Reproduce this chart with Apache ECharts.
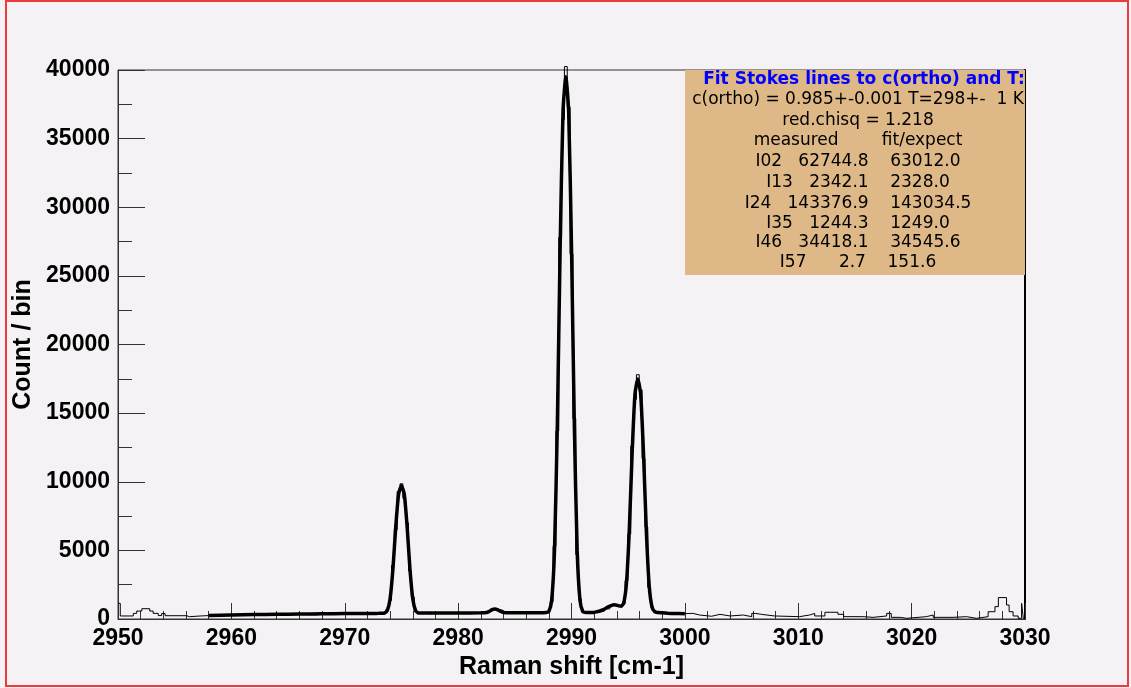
<!DOCTYPE html>
<html>
<head>
<meta charset="utf-8">
<title>Raman shift fit</title>
<script src="https://cdn.jsdelivr.net/npm/echarts@6/dist/echarts.min.js"></script>
<style>
  html, body { margin: 0; padding: 0; background: #f5f2f5; }
  #chart { width: 1131px; height: 688px; }
</style>
</head>
<body>
<div id="chart"></div>
<script>
'use strict';

// histogram: left bin edges + counts (last edge closes at 3030)
var histEdges = [
  2950.0, 2950.2, 2951.35, 2951.65, 2952.1, 2952.8, 2953.1, 2953.55, 2953.85, 2954.15,
  2956.05, 2956.3, 2957.5, 2958.5, 2959.5, 2960.5, 2961.5, 2962.5, 2963.5, 2964.5,
  2965.5, 2966.5, 2967.5, 2968.5, 2969.5, 2970.5, 2971.5, 2972.0, 2972.5, 2972.875,
  2973.125, 2973.375, 2973.625, 2973.875, 2974.125, 2974.375, 2974.625, 2974.875, 2975.125, 2975.375,
  2975.625, 2975.875, 2976.125, 2976.375, 2976.625, 2977.125, 2977.5, 2978.0, 2978.5, 2979.0,
  2979.5, 2980.0, 2980.5, 2981.0, 2981.5, 2982.0, 2982.5, 2983.0, 2983.5, 2984.0,
  2984.5, 2985.0, 2985.5, 2986.0, 2986.5, 2987.0, 2987.625, 2987.875, 2988.125, 2988.375,
  2988.625, 2988.875, 2989.125, 2989.375, 2989.625, 2989.875, 2990.125, 2990.375, 2990.625, 2990.875,
  2991.125, 2991.375, 2991.875, 2992.375, 2992.875, 2993.375, 2993.875, 2994.225, 2994.475, 2994.725,
  2994.975, 2995.225, 2995.475, 2995.725, 2995.975, 2996.225, 2996.475, 2996.725, 2996.975, 2997.225,
  2997.475, 2997.975, 2998.5, 2999.0, 2999.5, 3000.0, 3000.7, 3001.3, 3002.35, 3003.1,
  3004.0, 3005.15, 3005.9, 3006.2, 3006.75, 3007.9, 3010.1, 3011.0, 3011.45, 3012.35,
  3013.5, 3014.0, 3015.7, 3016.6, 3017.8, 3018.2, 3019.0, 3019.55, 3021.3, 3021.9,
  3023.65, 3024.85, 3025.7, 3026.75, 3027.35, 3027.65, 3028.37, 3028.6, 3028.95, 3029.4,
  3029.7, 3029.85, 3030.0
];
var histCounts = [
  1140, 220, 410, 580, 750, 580, 410, 250, 400, 240,
  170, 230, 260, 290, 250, 310, 330, 300, 270, 370,
  330, 300, 390, 360, 410, 380, 420, 390, 440, 430,
  470, 520, 700, 1350, 3900, 6500, 9300, 9850, 8800, 7000,
  3500, 1600, 560, 410, 450, 380, 430, 400, 450, 410,
  440, 400, 460, 420, 450, 430, 560, 720, 620, 470,
  430, 470, 430, 460, 440, 470, 500, 600, 1250, 5300,
  13700, 27800, 36400, 40250, 37300, 26600, 14600, 4700, 1450, 520,
  470, 440, 510, 560, 740, 1010, 980, 1000, 1100, 2800,
  6200, 12600, 16000, 17800, 16700, 11700, 6700, 2300, 900, 500,
  460, 410, 380, 430, 390, 413, 290, 200, 340, 220,
  290, 170, 410, 340, 220, 170, 290, 410, 220, 490,
  340, 170, 120, 220, 410, 120, 50, 170, 290, 120,
  170, 50, 170, 530, 900, 1560, 1020, 530, 220, 50,
  1140, 50
];

// fitted curve
var fitX = [
  2958, 2960, 2962, 2964, 2966, 2968, 2970, 2971, 2972, 2972.5,
  2973, 2973.25, 2973.5, 2973.75, 2974, 2974.25, 2974.5, 2974.75, 2975, 2975.25,
  2975.5, 2975.75, 2976, 2976.25, 2976.5, 2976.75, 2977, 2978, 2980, 2982,
  2982.5, 2982.75, 2983, 2983.25, 2983.5, 2983.75, 2984, 2984.5, 2985, 2986,
  2987, 2987.5, 2987.75, 2988, 2988.25, 2988.5, 2988.75, 2989, 2989.25, 2989.5,
  2989.75, 2990, 2990.25, 2990.5, 2990.75, 2991, 2991.25, 2991.5, 2991.75, 2992,
  2992.25, 2992.5, 2992.75, 2993, 2993.25, 2993.5, 2993.75, 2994, 2994.2, 2994.35,
  2994.6, 2994.85, 2995.1, 2995.35, 2995.6, 2995.85, 2996.1, 2996.35, 2996.6, 2996.85,
  2997.1, 2997.35, 2997.6, 2998, 2998.5, 2999, 3000
];
var fitY = [
  260, 290, 320, 340, 360, 380, 395, 400, 402, 404,
  410, 415, 430, 614, 1479, 3655, 6752, 9096, 9700, 9096,
  6752, 3655, 1479, 614, 440, 430, 430, 440, 445, 450,
  475, 560, 680, 720, 660, 550, 475, 450, 450, 452,
  455, 460, 470, 550, 1350, 4980, 14120, 27120, 36960, 39500,
  36960, 27120, 14120, 4980, 1350, 550, 470, 470, 470, 480,
  530, 580, 660, 770, 890, 980, 1030, 1008, 957, 928,
  1157, 2631, 6528, 12138, 16395, 17480, 16375, 12091, 6430, 2452,
  871, 524, 475, 450, 420, 400, 390
];

// axis ranges
var xTicks = { min: 2950, max: 3030, interval: 10 };
var yTicks = { min: 0, max: 40000, interval: 5000 };

// fit result box lines
var boxTitle = 'Fit Stokes lines to c(ortho) and T:';
var boxLines = [
  'c(ortho) = 0.985+-0.001 T=298+-  1 K',
  'red.chisq = 1.218',
  'measured        fit/expect',
  'I02   62744.8    63012.0',
  'I13   2342.1    2328.0',
  'I24   143376.9    143034.5',
  'I35   1244.3    1249.0',
  'I46   34418.1    34545.6',
  'I57      2.7    151.6'
];

var histData = histEdges.map(function (x, i) {
  return [x, i < histCounts.length ? histCounts[i] : histCounts[histCounts.length - 1]];
});
var fitData = fitX.map(function (x, i) {
  return [x, fitY[i]];
});

var labelFont = {
  color: '#000',
  fontFamily: 'Liberation Sans',
  fontWeight: 'bold',
  fontSize: 23,
  formatter: function (v) { return String(v); }
};
var titleFont = {
  color: '#000',
  fontFamily: 'Liberation Sans',
  fontWeight: 'bold',
  fontSize: 25,
  verticalAlign: 'middle'
};

var lineY = [100, 121, 140.5, 162, 183, 204, 224, 243, 263];
var boxX = 858;

var graphics = [
  {
    type: 'rect',
    shape: { x: 685, y: 70, width: 340, height: 205 },
    style: { fill: '#deb887' },
    z: 1
  },
  {
    type: 'text',
    z: 2,
    style: {
      text: boxTitle, x: boxX + 6, y: 80,
      align: 'center', verticalAlign: 'middle',
      font: 'bold 17px "DejaVu Sans"', fill: '#0000ff'
    }
  },
  {
    type: 'rect',
    shape: { x: 6, y: 1, width: 1122, height: 685 },
    style: { fill: 'none', stroke: '#ee3a3a', lineWidth: 2 },
    z: 10
  }
];
boxLines.forEach(function (t, i) {
  graphics.push({
    type: 'text',
    z: 2,
    style: {
      text: t, x: boxX, y: lineY[i],
      align: 'center', verticalAlign: 'middle',
      font: '17px "DejaVu Sans"', fill: '#000'
    }
  });
});

var chart = echarts.init(document.getElementById('chart'));
chart.setOption({
  backgroundColor: '#f5f2f5',
  animation: false,
  grid: {
    left: 118,
    right: 106,
    top: 70,
    bottom: 69,
    show: true,
    borderColor: '#333',
    borderWidth: 1,
    backgroundColor: 'transparent'
  },
  xAxis: {
    type: 'value',
    min: xTicks.min,
    max: xTicks.max,
    interval: xTicks.interval,
    name: 'Raman shift [cm-1]',
    nameLocation: 'middle',
    nameGap: 47,
    nameTextStyle: titleFont,
    axisLine: { show: true, lineStyle: { color: '#333', width: 1 } },
    axisTick: { show: true, inside: true, length: 16, lineStyle: { color: '#333' } },
    minorTick: { show: true, splitNumber: 5, length: 8, lineStyle: { color: '#333' } },
    splitLine: { show: false },
    axisLabel: Object.assign({ margin: 8 }, labelFont)
  },
  yAxis: [
    {
      type: 'value',
      min: yTicks.min,
      max: yTicks.max,
      interval: yTicks.interval,
      name: 'Count / bin',
      nameLocation: 'middle',
      nameGap: 93,
      nameRotate: 90,
      nameTextStyle: titleFont,
      axisLine: { show: true, lineStyle: { color: '#333', width: 1 } },
      axisTick: { show: true, inside: true, length: 27, lineStyle: { color: '#333' } },
      minorTick: { show: true, splitNumber: 2, length: 14, lineStyle: { color: '#333' } },
      splitLine: { show: false },
      axisLabel: Object.assign({ margin: 8 }, labelFont)
    },
    {
      type: 'value',
      position: 'right',
      min: yTicks.min,
      max: yTicks.max,
      axisLine: { show: true, lineStyle: { color: '#000', width: 2 } },
      axisTick: { show: false },
      axisLabel: { show: false },
      splitLine: { show: false }
    }
  ],
  series: [
    {
      name: 'data',
      type: 'line',
      step: 'end',
      data: histData,
      showSymbol: false,
      symbol: 'none',
      clip: false,
      lineStyle: { color: '#000', width: 1 },
      z: 3
    },
    {
      name: 'fit',
      type: 'line',
      data: fitData,
      smooth: 0.2,
      showSymbol: false,
      symbol: 'none',
      lineStyle: { color: '#000', width: 3.5 },
      z: 4
    }
  ],
  graphic: graphics
});
</script>
</body>
</html>
